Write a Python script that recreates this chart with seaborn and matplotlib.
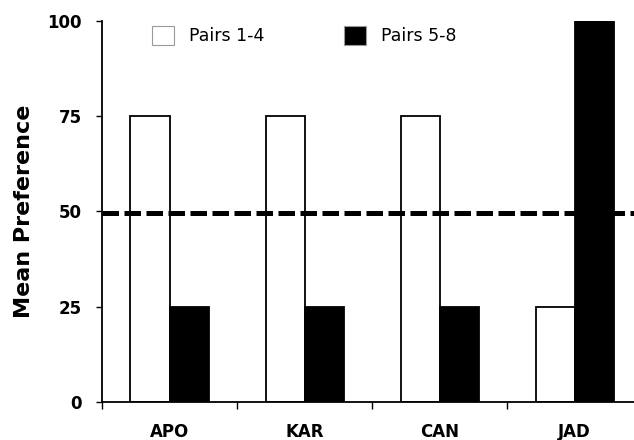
import matplotlib
matplotlib.use("Agg")
import matplotlib.pyplot as plt
import seaborn as sns
import pandas as pd
from matplotlib.patches import Patch
from matplotlib.ticker import FixedLocator

categories = ["APO", "KAR", "CAN", "JAD"]
series_names = ["Pairs 1-4", "Pairs 5-8"]
pairs_1_4 = [75, 75, 75, 25]
pairs_5_8 = [25, 25, 25, 100]
chance_level = 49.5
y_ticks = [0, 25, 50, 75, 100]

df = pd.DataFrame({
    "category": categories * 2,
    "series": [series_names[0]] * 4 + [series_names[1]] * 4,
    "value": pairs_1_4 + pairs_5_8,
})

sns.set_style("white")
plt.rcParams["font.family"] = ["DejaVu Sans"]
plt.rcParams["text.color"] = "black"
plt.rcParams["axes.labelcolor"] = "black"
plt.rcParams["xtick.color"] = "black"
plt.rcParams["ytick.color"] = "black"

fig = plt.figure(figsize=(6.34, 4.4), dpi=100)
ax = fig.add_axes([102 / 634, 38 / 440, 1 - 102 / 634, (402 - 20.7) / 440])

sns.barplot(data=df, x="category", y="value", hue="series", order=categories,
            hue_order=series_names, palette=["white", "black"], edgecolor="black",
            linewidth=1.3, width=0.578, gap=0, legend=False, ax=ax, zorder=2)

ax.axhline(chance_level, color="black", lw=3.6, dashes=(3.3, 1.1), zorder=5)

ax.set_xlim(-0.5, 3.44)
ax.set_ylim(0, 100)
ax.set_yticks(y_ticks)
ax.set_yticklabels([str(t) for t in y_ticks], fontweight="bold", fontsize=12, color="black")
ax.set_xticks(range(len(categories)))
ax.set_xticklabels(categories, fontweight="bold", fontsize=12, color="black")
ax.xaxis.set_minor_locator(FixedLocator([-0.5, 0.5, 1.5, 2.5]))
ax.tick_params(axis="x", which="major", length=0, pad=15)
ax.tick_params(axis="x", which="minor", length=5, width=1.0, color="black", direction="out", bottom=True)
ax.tick_params(axis="y", which="major", length=4.3, width=1.0, color="black", direction="out", left=True, pad=10)

ax.set_xlabel("")
ax.set_ylabel("Mean Preference", fontsize=16, fontweight="bold", labelpad=10, color="black")

for s in ["top", "right"]:
    ax.spines[s].set_visible(False)
for s in ["left", "bottom"]:
    ax.spines[s].set_color("black")
    ax.spines[s].set_linewidth(1.3)

handles = [Patch(facecolor="white", edgecolor="#999999", linewidth=0.8),
           Patch(facecolor="black", edgecolor="#999999", linewidth=0.8)]
fig.legend(handles, series_names, loc="upper left", bbox_to_anchor=(152 / 634, 1 - 26 / 440),
           ncol=2, frameon=False, fontsize=12.5, handlelength=1.27, handleheight=1.3,
           handletextpad=0.86, columnspacing=4.6, borderpad=0, borderaxespad=0,
           labelcolor="black")

fig.savefig("out.png", dpi=100)
